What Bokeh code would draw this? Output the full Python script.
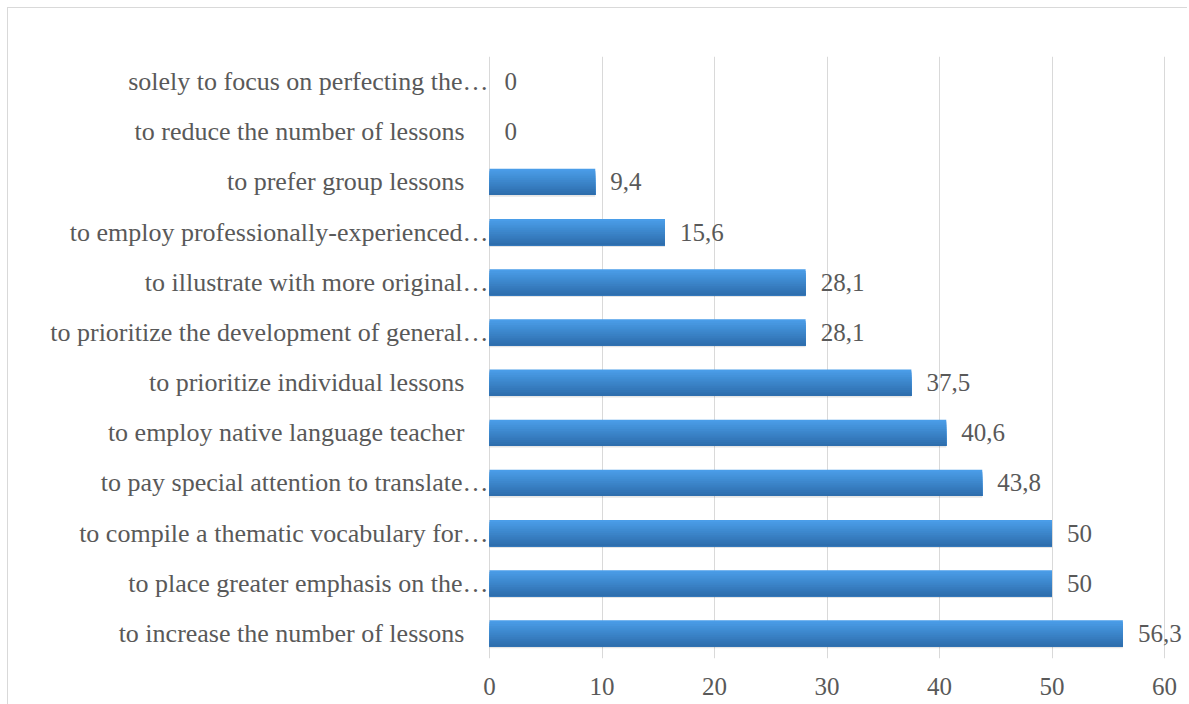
from bokeh.plotting import figure
from bokeh.models import ColumnDataSource, FactorRange, Range1d, LabelSet, FixedTicker
from bokeh.transform import dodge
from bokeh.embed import file_html
from bokeh.resources import INLINE

# ---- data (bottom to top) ----
categories = [
    "to increase the number of lessons",
    "to place greater emphasis on the…",
    "to compile a thematic vocabulary for…",
    "to pay special attention to translate…",
    "to employ native language teacher",
    "to prioritize individual lessons",
    "to prioritize the development of general…",
    "to illustrate with more original…",
    "to employ professionally-experienced…",
    "to prefer group lessons",
    "to reduce the number of lessons",
    "solely to focus on perfecting the…",
]
values = [56.3, 50, 50, 43.8, 40.6, 37.5, 28.1, 28.1, 15.6, 9.4, 0, 0]
x_ticks = [0, 10, 20, 30, 40, 50, 60]

FONT = "Liberation Serif"
TXT = "#595959"
FS_CAT = "26px"
FS_NUM = "25px"

# layout (pixels)
W, H = 1180, 697
ZERO_PX, SIXTY_PX = 481, 1156      # positions of 0 and 60 inside the figure
ppu = (SIXTY_PX - ZERO_PX) / 60.0
x_start = -ZERO_PX / ppu
x_end = 60 + (W - SIXTY_PX) / ppu

value_text = [f"{v:g}".replace(".", ",") for v in values]
label_offset = [-1 if c.endswith("…") else -25 for c in categories]

src = ColumnDataSource(dict(cat=categories, val=values, vtxt=value_text, loff=label_offset))

p = figure(
    width=W, height=H,
    y_range=FactorRange(*categories, range_padding=0),
    x_range=Range1d(x_start, x_end),
    output_backend="svg", toolbar_location=None,
    min_border_left=0, min_border_right=0, min_border_top=48, min_border_bottom=47,
    margin=(7, 0, 0, 7),
)
p.styles = {"border-left": "1px solid #d9d9d9", "border-top": "1px solid #d9d9d9"}
p.outline_line_color = None
p.background_fill_color = "white"
p.border_fill_color = "white"

# grid / axes
p.ygrid.grid_line_color = None
p.xgrid.grid_line_color = "#d9d9d9"
p.xgrid.grid_line_width = 1
p.xaxis.ticker = FixedTicker(ticks=x_ticks)
p.xaxis.axis_line_color = None
p.xaxis.major_tick_line_color = None
p.xaxis.minor_tick_line_color = None
p.xaxis.major_label_text_font = FONT
p.xaxis.major_label_text_font_size = FS_NUM
p.xaxis.major_label_text_color = TXT
p.xaxis.major_label_standoff = 13
p.yaxis.visible = False

# bars: soft shadow + vertical gradient (nested bars anchored at the bottom)
BH = 0.52
p.hbar(y=dodge("cat", -0.035, range=p.y_range), left=0, right="val", height=BH,
       source=src, fill_color="#000000", fill_alpha=0.10, line_color=None)

top_c = (0x4a, 0x9d, 0xe8)
bot_c = (0x2e, 0x6e, 0xad)
N = 14
step = BH / N
for i in range(N):
    t = i / (N - 1)
    col = tuple(round(top_c[k] + (bot_c[k] - top_c[k]) * t) for k in range(3))
    hexc = "#%02x%02x%02x" % col
    h = BH - i * step
    p.hbar(y=dodge("cat", -(i * step) / 2, range=p.y_range), left=0, right="val",
           height=h, source=src, fill_color=hexc, line_color=None)

# value labels
p.add_layout(LabelSet(x="val", y="cat", text="vtxt", source=src, x_offset=15,
                      text_font=FONT, text_font_size=FS_NUM, text_color=TXT,
                      text_baseline="middle", text_align="left"))
# category labels
p.add_layout(LabelSet(x=0, y="cat", text="cat", source=src, x_offset="loff",
                      text_font=FONT, text_font_size=FS_CAT, text_color=TXT,
                      text_baseline="middle", text_align="right"))

open("out.html", "w").write(file_html(p, INLINE))
